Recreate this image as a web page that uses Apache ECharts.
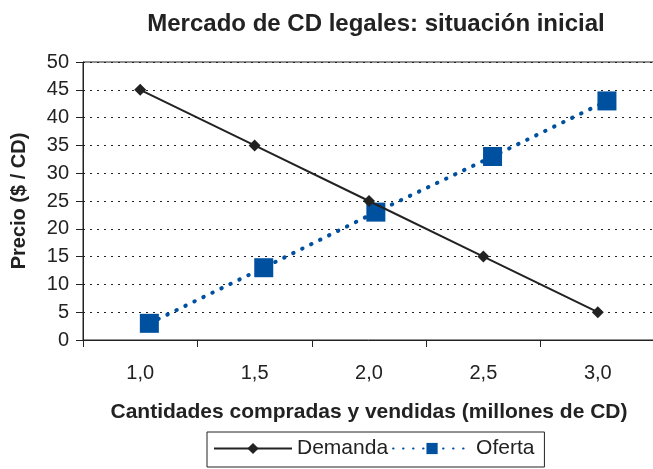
<!DOCTYPE html>
<html>
<head>
<meta charset="utf-8">
<script src="https://cdn.jsdelivr.net/npm/echarts@6/dist/echarts.min.js"></script>
<style>
  html, body { margin: 0; padding: 0; background: #fff; }
  #chart { width: 653px; height: 469px; }
</style>
</head>
<body>
<div id="chart"></div>
<script>
// datos
const categorias = ['1,0', '1,5', '2,0', '2,5', '3,0']
const demanda = [45, 35, 25, 15, 5]
// oferta: cantidad (millones de CD) y precio
const ofertaX = [1.04, 1.54, 2.03, 2.54, 3.04]
const ofertaY = [3, 13, 23, 33, 43]

const fuente = 'Liberation Sans, Arial, sans-serif'
const chart = echarts.init(document.getElementById('chart'))

chart.setOption({
    animation: false,
    title: {
        text: 'Mercado de CD legales: situación inicial',
        left: 371,
        textAlign: 'center',
        top: 7,
        textStyle: { fontFamily: fuente, fontSize: 24, fontWeight: 'bold', color: '#222' }
    },
    grid: {
        left: 83, top: 62, width: 572, height: 278,
        outerBoundsMode: 'none',
        containLabel: false,
        show: true, borderColor: '#222', borderWidth: 1
    },
    legend: {
        left: 207, top: 432,
        itemWidth: 78, itemHeight: 14, itemGap: 4,
        borderColor: '#222', borderWidth: 1,
        padding: [6, 10, 8, 6],
        textStyle: { fontFamily: fuente, fontSize: 21, color: '#222' },
        data: ['Demanda', 'Oferta']
    },
    xAxis: [
        {
            type: 'category',
            data: categorias,
            boundaryGap: true,
            name: 'Cantidades compradas y vendidas (millones de CD)',
            nameLocation: 'middle',
            nameGap: 62,
            nameTextStyle: { fontFamily: fuente, fontSize: 21, fontWeight: 'bold', color: '#222' },
            axisLine: { lineStyle: { color: '#222', width: 1 } },
            axisTick: { show: true, length: 7, lineStyle: { color: '#222' } },
            axisLabel: { fontFamily: fuente, fontSize: 20, color: '#222', margin: 23 },
            splitLine: { show: false }
        },
        {
            type: 'value',
            min: 0.75, max: 3.25,
            show: false
        }
    ],
    yAxis: {
        type: 'value',
        min: 0, max: 50, interval: 5,
        name: 'Precio ($ / CD)',
        nameLocation: 'middle',
        nameRotate: 90,
        nameGap: 54,
        nameTextStyle: { fontFamily: fuente, fontSize: 20, fontWeight: 'bold', color: '#222' },
        axisLine: { show: true, lineStyle: { color: '#222', width: 1 } },
        axisTick: { show: true, length: 7, lineStyle: { color: '#222' } },
        axisLabel: { fontFamily: fuente, fontSize: 20, color: '#222', margin: 14 },
        splitLine: { show: true, lineStyle: { color: '#222', type: [2, 5], width: 1 } }
    },
    series: [
        {
            name: 'Demanda',
            type: 'line',
            xAxisIndex: 0,
            data: demanda,
            symbol: 'diamond',
            symbolSize: 12,
            color: '#222',
            lineStyle: { color: '#222', width: 2 },
            itemStyle: { color: '#222' },
            z: 3
        },
        {
            name: 'Oferta',
            type: 'line',
            xAxisIndex: 1,
            data: ofertaX.map((x, i) => [x, ofertaY[i]]),
            symbol: 'rect',
            symbolSize: 19,
            color: '#0050a0',
            lineStyle: { color: '#0050a0', width: 4, type: [0.5, 9.5], cap: 'round' },
            itemStyle: { color: '#0050a0' },
            z: 2
        }
    ]
})
</script>
</body>
</html>
